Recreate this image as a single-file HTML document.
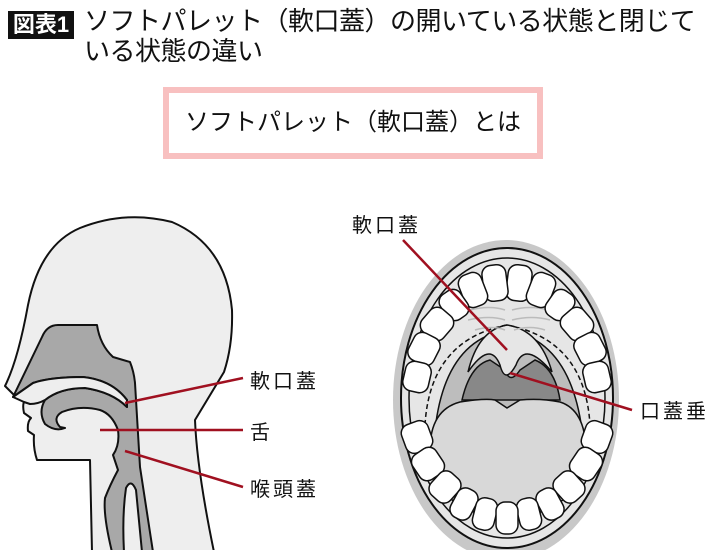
<!DOCTYPE html>
<html><head><meta charset="utf-8"><style>
body{margin:0;width:710px;height:550px;background:#fff;overflow:hidden;position:relative;font-family:"Liberation Sans","Noto Sans CJK JP",sans-serif;}
.tag{position:absolute;left:8px;top:11px;width:66px;height:28px;background:#111;color:#fff;font-size:22px;font-weight:bold;line-height:28px;text-align:center;}
.title{position:absolute;left:84px;top:6px;font-size:26px;line-height:30px;color:#111;width:620px;letter-spacing:-0.5px;}
.box{position:absolute;left:163px;top:87px;width:368px;height:60px;border:6px solid #f8c0c0;text-align:center;font-size:24px;line-height:60px;color:#111;}
</style></head><body>
<div class="tag">図表1</div>
<div class="title">ソフトパレット（軟口蓋）の開いている状態と閉じて<br>いる状態の違い</div>
<div class="box">ソフトパレット（軟口蓋）とは</div>
<svg width="710" height="550" style="position:absolute;left:0;top:0" font-family="Liberation Sans, Noto Sans CJK JP, sans-serif">
<g stroke="#111" stroke-width="2" stroke-linejoin="round">
<path d="M92 552 L90 460 L37 460 Q33 448 34 435 L28 431 Q27 422 31 418 L24 413 Q22 404 25 400 L14 395 L5 386 Q18 360 28 305 Q40 245 80 228 Q125 210 172 222 Q226 245 232 310 Q233 345 224 372 L195 420 Q197 470 214 552 Z" fill="#eee"/>
<path d="M13 397 L42 337 Q47 325 58 325 L97 325 Q100 345 113 357 L130 362 Q134 372 135 383 L140 467 L153 552 L112 552 Q103 515 105 498 Q110 485 118 470 L113 455 Q120 445 118 430 Q112 414 100 410 Q80 405 62 412 Q52 418 60 427 L65 428 Q55 432 45 424 Q38 412 45 400 Q60 388 85 388 Q112 392 127 407 L127 400 Q112 380 83 377 Q50 377 33 383 Z" fill="#a8a8a8"/>
<path d="M13 397 L33 383 Q50 377 83 377 Q112 380 127 400 L127 407 Q112 392 85 388 Q60 388 45 400 Q38 404 30 404 L24 402 Z" fill="#eee"/>
<path d="M124 552 Q122 515 126 488 Q131 478 136 490 L142 552 Z" fill="#eee"/>
</g>
<g stroke="#a01020" stroke-width="2.5">
<line x1="125" y1="403" x2="243" y2="378"/>
<line x1="100" y1="430" x2="243" y2="430"/>
<line x1="125" y1="451" x2="243" y2="487"/>
</g>
<g font-size="20" fill="#111">
<text x="250" y="388" letter-spacing="3">軟口蓋</text>
<text x="250" y="439">舌</text>
<text x="250" y="496" letter-spacing="3">喉頭蓋</text>
<text x="352" y="232" letter-spacing="3">軟口蓋</text>
<text x="640" y="418" letter-spacing="3">口蓋垂</text>
</g>
<!-- mouth -->
<ellipse cx="506" cy="400" rx="113" ry="160" fill="#c8c8c8"/>
<ellipse cx="507" cy="398" rx="106" ry="150" fill="#e6e6e6" stroke="#111" stroke-width="2"/>
<ellipse cx="507" cy="398" rx="98" ry="140" fill="none" stroke="#111" stroke-width="1.5"/>
<path d="M435 430 Q445 340 507 330 Q570 340 582 430 Z" fill="#bdbdbd" stroke="#111" stroke-width="1.5"/>
<path d="M462 400 Q470 365 490 360 L505 370 Q510 385 520 370 L535 360 Q555 368 560 400 Z" fill="#888" stroke="#111" stroke-width="1.5"/>
<path d="M468 372 Q490 340 500 365 Q505 385 516 365 Q525 340 552 372 Q540 330 507 325 Q478 330 468 372 Z" fill="#e6e6e6" stroke="#111" stroke-width="1.5"/>
<path d="M430 450 Q430 410 460 402 Q485 398 495 400 L507 408 L520 400 Q540 398 560 402 Q585 410 586 450 Q585 510 507 520 Q430 510 430 450 Z" fill="#d8d8d8" stroke="#111" stroke-width="1.5"/>
<path d="M425 425 Q430 340 507 325 Q585 340 590 425" fill="none" stroke="#111" stroke-width="1.5" stroke-dasharray="5,3"/>
<g stroke="#bbb" stroke-width="1.5" fill="none">
<path d="M470 310 Q490 305 505 310 M512 310 Q530 305 548 310 M468 320 Q490 315 505 320 M512 320 Q532 315 550 320 M475 330 Q492 325 505 330 M514 330 Q530 325 545 330"/>
</g>
<g fill="#fff" stroke="#111" stroke-width="1.5">
<rect x="-12" y="-18" width="24" height="36" rx="9" transform="translate(519,283) rotate(7)"/>
<rect x="-12" y="-18" width="24" height="36" rx="9" transform="translate(495,283) rotate(-7)"/>
<rect x="-12" y="-17" width="24" height="34" rx="9" transform="translate(541,290) rotate(21)"/>
<rect x="-12" y="-17" width="24" height="34" rx="9" transform="translate(473,290) rotate(-21)"/>
<rect x="-12" y="-15" width="24" height="30" rx="9" transform="translate(560,305) rotate(35)"/>
<rect x="-12" y="-15" width="24" height="30" rx="9" transform="translate(454,305) rotate(-35)"/>
<rect x="-15" y="-14" width="30" height="28" rx="9" transform="translate(577,324) rotate(49)"/>
<rect x="-15" y="-14" width="30" height="28" rx="9" transform="translate(437,324) rotate(-49)"/>
<rect x="-15" y="-14" width="30" height="28" rx="9" transform="translate(590,349) rotate(63)"/>
<rect x="-15" y="-14" width="30" height="28" rx="9" transform="translate(424,349) rotate(-63)"/>
<rect x="-15" y="-13" width="30" height="26" rx="9" transform="translate(597,377) rotate(77)"/>
<rect x="-15" y="-13" width="30" height="26" rx="9" transform="translate(417,377) rotate(-77)"/>
<rect x="-15" y="-14" width="30" height="28" rx="9" transform="translate(597,437) rotate(110)"/>
<rect x="-15" y="-14" width="30" height="28" rx="9" transform="translate(417,437) rotate(-110)"/>
<rect x="-15" y="-14" width="30" height="28" rx="9" transform="translate(586,464) rotate(124)"/>
<rect x="-15" y="-14" width="30" height="28" rx="9" transform="translate(428,464) rotate(-124)"/>
<rect x="-13" y="-15" width="26" height="30" rx="9" transform="translate(569,487) rotate(138)"/>
<rect x="-13" y="-15" width="26" height="30" rx="9" transform="translate(445,487) rotate(-138)"/>
<rect x="-11" y="-16" width="22" height="32" rx="9" transform="translate(550,504) rotate(152)"/>
<rect x="-11" y="-16" width="22" height="32" rx="9" transform="translate(464,504) rotate(-152)"/>
<rect x="-11" y="-16" width="22" height="32" rx="9" transform="translate(529,514) rotate(166)"/>
<rect x="-11" y="-16" width="22" height="32" rx="9" transform="translate(485,514) rotate(-166)"/>
<rect x="496" y="502" width="22" height="32" rx="9"/>
</g>
<g stroke="#a01020" stroke-width="2.5">
<line x1="403" y1="240" x2="507" y2="350"/>
<line x1="510" y1="373" x2="632" y2="410"/>
</g>
</svg>
</body></html>
